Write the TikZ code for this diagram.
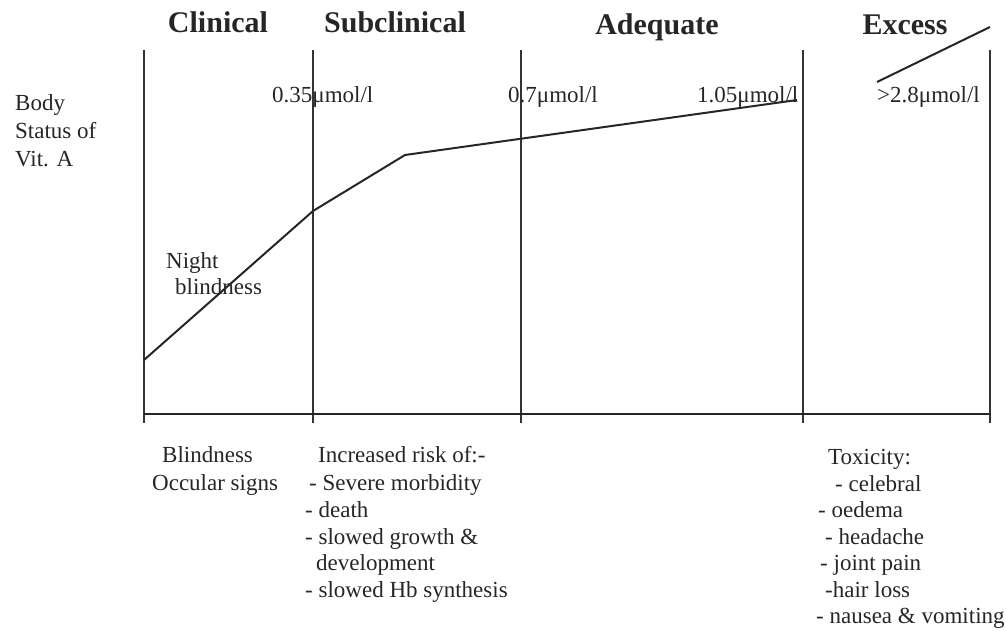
\documentclass[tikz,border=0pt]{standalone}
\usepackage{fontspec}
\setmainfont{Liberation Serif}
\begin{document}
\begin{tikzpicture}[x=1pt,y=-1pt,
  txt/.style={anchor=base west,inner sep=0pt,font=\fontsize{23}{27}\selectfont,text=black!85},
  ttl/.style={anchor=base,inner sep=0pt,font=\fontsize{30}{36}\selectfont\bfseries,text=black!85},
  vline/.style={draw=black!80,line width=1.1pt},
  curve/.style={draw=black!85,line width=2pt},
  axis/.style={draw=black!85,line width=2.6pt}]
\useasboundingbox (0,0) rectangle (1006,631);
% vertical lines
\foreach \n/\x in {a/144,b/313,c/521,d/803,e/990}{
  \coordinate (\n top) at (\x,50);
  \coordinate (\n bot) at (\x,423);
  \draw[vline] (\n top) -- (\n bot);
}
% baseline
\coordinate (axl) at (144,414);
\coordinate (axr) at (990,414);
\draw[axis] (axl) -- (axr);
% status curve
\coordinate (p0) at (144,360);
\coordinate (p1) at (313,211);
\coordinate (p2) at (405,155);
\coordinate (p3) at (797,100);
\draw[curve] (p0) -- (p1) -- (p2) -- (p3);
\coordinate (q0) at (877,82);
\coordinate (q1) at (990,27);
\draw[curve] (q0) -- (q1);
% titles
\node[ttl] (tclin) at (218,33) {Clinical};
\node[ttl] (tsub) at (395,33) {Subclinical};
\node[ttl] (tadq) at (657,35) {Adequate};
\node[ttl] (texc) at (905,35) {Excess};
% y label
\node[txt] (body) at (15,111) {Body};
\node[txt] (stat) at (15,139) {Status of};
\node[txt] (vit) at (15,167) {Vit. A};
% thresholds
\node[txt] (t1) at (272,103) {0.35μmol/l};
\node[txt] (t2) at (508,103) {0.7μmol/l};
\node[txt] (t3) at (697,103) {1.05μmol/l};
\node[txt] (t4) at (877,103) {>2.8μmol/l};
% night blindness
\node[txt] (nb1) at (166,268) {Night};
\node[txt] (nb2) at (175,294) {blindness};
% bottom texts
\node[txt] (bl1) at (162,462) {Blindness};
\node[txt] (bl2) at (152,490) {Occular signs};
\node[txt] (ir0) at (318,462) {Increased risk of:-};
\node[txt] (ir1) at (309,490) {- Severe morbidity};
\node[txt] (ir2) at (305,517) {- death};
\node[txt] (ir3) at (305,544) {- slowed growth \&};
\node[txt] (ir4) at (316,570) {development};
\node[txt] (ir5) at (305,597) {- slowed Hb synthesis};
\node[txt] (tx0) at (828,464) {Toxicity:};
\node[txt] (tx1) at (835,491) {- celebral};
\node[txt] (tx2) at (818,517) {- oedema};
\node[txt] (tx3) at (825,544) {- headache};
\node[txt] (tx4) at (820,570) {- joint pain};
\node[txt] (tx5) at (825,597) {-hair loss};
\node[txt] (tx6) at (816,623) {- nausea \& vomiting};
\end{tikzpicture}
\end{document}
